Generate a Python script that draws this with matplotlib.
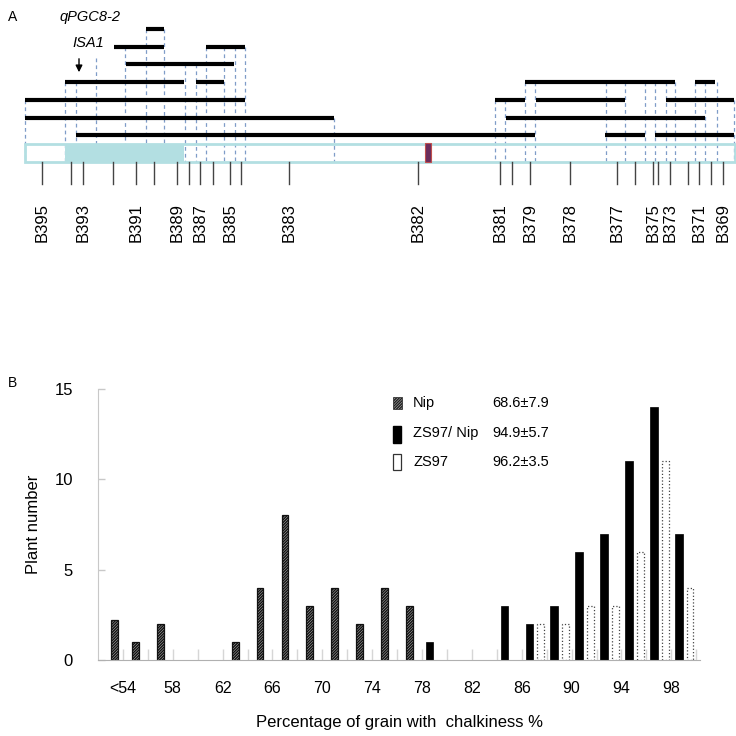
import matplotlib
matplotlib.use('Agg')
import matplotlib.pyplot as plt
from matplotlib.patches import Rectangle

plt.rcParams['font.family'] = ['Liberation Sans', 'DejaVu Sans']
plt.rcParams['hatch.linewidth'] = 1.1

# ---- panel A: marker map (positions along the map, in picture units) ----
marker_names = ['B395', 'B394', 'B393', 'B392', 'B391', 'B390', 'B389', 'B388', 'B387',
                'B386', 'B385', 'B384', 'B383', 'B382', 'B381', 'B380', 'B379', 'B378',
                'B377', 'B376', 'B375', 'B374', 'B373', 'B372', 'B371', 'B370', 'B369']
marker_pos = [42, 71, 83, 113, 136, 154, 177, 189, 200, 213, 230, 241, 289, 418,
              500, 512, 530, 570, 617, 635, 653, 658, 670, 688, 699, 711, 723]
labeled = ['B395', 'B393', 'B391', 'B389', 'B387', 'B385', 'B383', 'B382', 'B381',
           'B379', 'B378', 'B377', 'B375', 'B373', 'B371', 'B369']

# recombinant segments per row (row 1 = top)
row1 = [(146, 164)]
row2 = [(114, 164), (206, 245)]
row3 = [(126, 234)]
row4 = [(65, 184), (196, 224), (525, 675), (695, 715)]
row5 = [(25, 245), (495, 525), (536, 625), (666, 734)]
row6 = [(25, 334), (506, 705)]
row7 = [(76, 535), (605, 645), (655, 734)]
rows = [row1, row2, row3, row4, row5, row6, row7]

# dashed breakpoint lines: x and the row they start from
break_x = [25, 65, 76, 125, 146, 164, 185, 196, 206, 224, 235, 245, 334,
           495, 505, 525, 535, 606, 625, 645, 655, 666, 675, 695, 705, 717, 734]
break_row = [5, 4, 4, 2, 1, 1, 3, 3, 2, 2, 2, 2, 6,
             5, 5, 4, 4, 4, 4, 4, 4, 4, 4, 4, 4, 4, 5]

chrom_start, chrom_end = 25, 735
qtl_start, qtl_end = 65, 184
isa1_pos = 96
cand_pos = 428
arrow_pos = 79

# ---- panel B: histogram of chalkiness ----
nip_x = [53.3, 55, 57, 63, 65, 67, 69, 71, 73, 75, 77]
nip_n = [2.2, 1, 2, 1, 4, 8, 3, 4, 2, 4, 3]
hyb_x = [78.6, 84.6, 86.6, 88.6, 90.6, 92.6, 94.6, 96.6, 98.6]
hyb_n = [1, 3, 2, 3, 6, 7, 11, 14, 7]
zs_x = [87.5, 89.5, 91.5, 93.5, 95.5, 97.5, 99.5]
zs_n = [2, 2, 3, 3, 6, 11, 4]
xtick_pos = [54, 58, 62, 66, 70, 74, 78, 82, 86, 90, 94, 98]
xtick_lab = ['<54', '58', '62', '66', '70', '74', '78', '82', '86', '90', '94', '98']
minor_pos = [56, 60, 64, 68, 72, 76, 80, 84, 88, 92, 96, 100]
legend_names = ['Nip', 'ZS97/ Nip', 'ZS97']
legend_stats = ['68.6\u00b17.9', '94.9\u00b15.7', '96.2\u00b13.5']

fig = plt.figure(figsize=(7.36, 7.36), dpi=100)

# panel B axes
axb = fig.add_axes([98 / 736, 76 / 736, 602 / 736, 271 / 736])
axb.bar(nip_x, nip_n, width=0.55, color='#d8d8d8', edgecolor='#111111', hatch='////////////', linewidth=0.9)
axb.bar(hyb_x, hyb_n, width=0.6, color='black', edgecolor='black', linewidth=0.5)
axb.bar(zs_x, zs_n, width=0.55, color='white', edgecolor='#444444', linestyle=':', linewidth=0.9)
axb.set_xlim(52, 100.3)
axb.set_ylim(0, 15)
axb.set_xticks(xtick_pos)
axb.set_xticklabels(xtick_lab, fontsize=11.5)
axb.set_xticks(minor_pos, minor=True)
axb.set_yticks([0, 5, 10, 15])
axb.set_yticklabels(['0', '5', '10', '15'], fontsize=12)
axb.tick_params(axis='x', which='both', direction='in', length=8, width=1, color='#d6d6d6', pad=15)
axb.tick_params(axis='y', direction='in', length=5, width=1, color='#c8c8c8', pad=18)
for side in ['top', 'right']:
    axb.spines[side].set_visible(False)
axb.spines['left'].set_color('#c8c8c8')
axb.spines['bottom'].set_color('#b0b0b0')
axb.set_ylabel('Plant number', fontsize=12, labelpad=10)
axb.set_xlabel('Percentage of grain with  chalkiness %', fontsize=12, labelpad=14)

# overlay axes in picture units for panel A and the legend
ax = fig.add_axes([0, 0, 1, 1])
ax.set_xlim(0, 736)
ax.set_ylim(736, 0)
ax.axis('off')
ax.patch.set_alpha(0)

row_y0, row_dy = 29, 17.7
chrom_top, chrom_bot = 144, 162

for x, r in zip(break_x, break_row):
    ax.plot([x, x], [row_y0 + (r - 1) * row_dy, chrom_bot], color='#7f9cc8',
            linestyle=(0, (3, 2.5)), linewidth=0.9, zorder=1)
ax.plot([isa1_pos, isa1_pos], [58, chrom_top], color='#7f9cc8',
        linestyle=(0, (3, 2.5)), linewidth=0.9, zorder=1)

for i, segs in enumerate(rows):
    y = row_y0 + i * row_dy
    for s, e in segs:
        ax.plot([s, e], [y, y], color='black', linewidth=3, solid_capstyle='butt', zorder=3)

ax.add_patch(Rectangle((qtl_start, chrom_top), qtl_end - qtl_start, chrom_bot - chrom_top,
                       facecolor='#b3dfe2', edgecolor='none', zorder=2))
ax.add_patch(Rectangle((chrom_start, chrom_top), chrom_end - chrom_start, chrom_bot - chrom_top,
                       facecolor='none', edgecolor='#b3dfe2', linewidth=2, zorder=2))
ax.add_patch(Rectangle((cand_pos - 3, chrom_top - 1), 6, chrom_bot - chrom_top + 1,
                       facecolor='#6b2d5c', edgecolor='#c0504d', linewidth=0.8, zorder=3))

for name, x in zip(marker_names, marker_pos):
    ax.plot([x, x], [chrom_bot, 184], color='#444444', linewidth=1, zorder=2)
    if name in labeled:
        ax.text(x, 203, name, rotation=90, ha='center', va='top', fontsize=12)

ax.annotate('', xy=(arrow_pos, 75), xytext=(arrow_pos, 56),
            arrowprops=dict(arrowstyle='-|>', color='black', lw=1, mutation_scale=10))
ax.text(90, 17, 'qPGC8-2', style='italic', fontsize=10.5, ha='center', va='center')
ax.text(88, 43, 'ISA1', style='italic', fontsize=10.5, ha='center', va='center')
ax.text(8, 17, 'A', fontsize=10, va='center')
ax.text(8, 383, 'B', fontsize=10, va='center')

# legend
ax.add_patch(Rectangle((393, 397), 9, 12, facecolor='#d8d8d8', edgecolor='#222222',
                       hatch='////////////', linewidth=0.5))
ax.add_patch(Rectangle((393, 426), 8, 17, facecolor='black', edgecolor='black'))
ax.add_patch(Rectangle((393, 454), 8, 16, facecolor='white', edgecolor='#333333', linewidth=0.9))
for y, nm, st in zip([403, 433, 462], legend_names, legend_stats):
    ax.text(413, y, nm, fontsize=10.5, va='center')
    ax.text(492, y, st, fontsize=10.5, va='center')

fig.savefig('out.png', dpi=100)
